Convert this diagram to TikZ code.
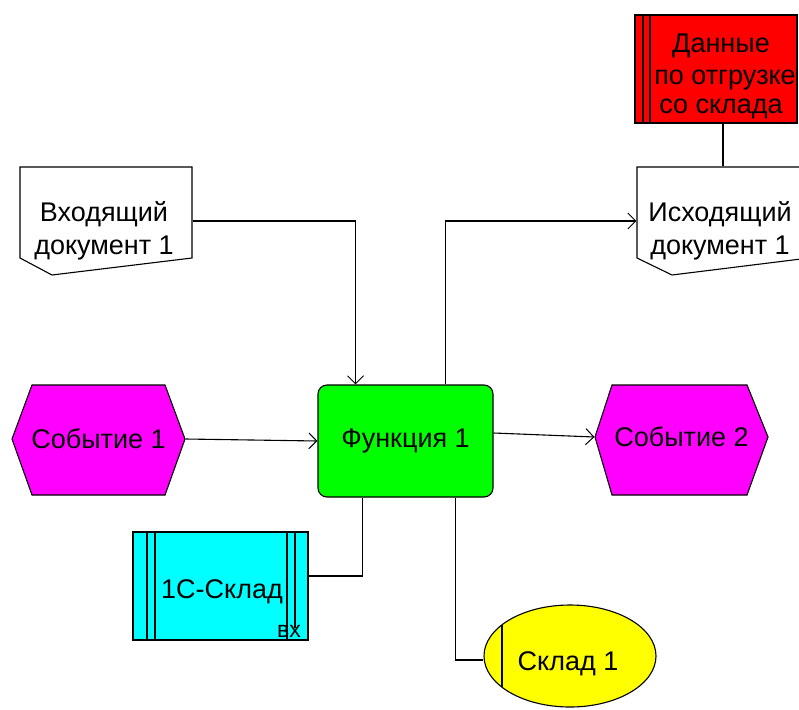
\documentclass[tikz,border=0pt]{standalone}
\usepackage{fontspec}
\setmainfont{Liberation Sans}
\usetikzlibrary{arrows.meta,calc}
\definecolor{evmag}{RGB}{255,0,255}
\definecolor{fngreen}{RGB}{0,255,0}
\definecolor{syscyan}{RGB}{0,255,255}
\definecolor{orgyellow}{RGB}{255,255,0}
\definecolor{datared}{RGB}{255,0,0}
\begin{document}
\begin{tikzpicture}[x=1pt,y=-1pt,line width=1.1pt,
  lbl/.style={font=\fontsize{27}{33}\selectfont,inner sep=0pt,align=center},
  small/.style={font=\fontsize{23}{26}\selectfont,inner sep=0pt},
  area/.style={inner sep=0pt,minimum width=#1},
  conn/.style={-{Straight Barb[length=8pt,width=16pt,line width=1pt]}},
  plain/.style={line width=1.1pt}]
\useasboundingbox (0,0) rectangle (799,709);
\clip (0,0) rectangle (799,709);

% red data box
\draw[fill=datared] (635,15) rectangle (797,123);
\draw (643,15) -- (643,123) (650,15) -- (650,123);
\node[area=162pt,minimum height=108pt] (red) at (716,69) {};
\node[lbl] (redt1) at (721,46) {Данные};
\node[lbl] (redt2) at (725,80) {по отгрузке};
\node[lbl] (redt3) at (721,109) {со склада};

% incoming document
\draw[fill=white] (20,167) -- (192,167) -- (192,258) -- (52,275) -- (20,258) -- cycle;
\node[area=172pt,minimum height=108pt] (indoc) at (106,221) {};
\node[lbl] (indoct) at (104,231) {Входящий\\документ 1};

% outgoing document
\draw[fill=white] (637,167) -- (809,167) -- (809,258) -- (672,275) -- (637,258) -- cycle;
\node[area=172pt,minimum height=108pt] (outdoc) at (723,221) {};
\node[lbl] (outdoct) at (720,231) {Исходящий\\документ 1};

% events
\draw[fill=evmag] (12,439) -- (32,385) -- (165,385) -- (185,439) -- (165,495) -- (32,495) -- cycle;
\node[area=173pt,minimum height=110pt,lbl] (e1) at (98.5,439) {Событие 1};
\draw[fill=evmag] (595,437) -- (612,385) -- (747,385) -- (768,437) -- (747,495) -- (612,495) -- cycle;
\node[area=173pt,minimum height=110pt,lbl] (e2) at (681.5,437) {Событие 2};

% function
\node[draw,fill=fngreen,rounded corners=9pt,minimum width=175pt,minimum height=112pt,lbl] (fn) at (405.5,441) {Функция 1};

% 1C system
\draw[fill=syscyan] (133,532) rectangle (308,640);
\draw (147,532) -- (147,640) (155,532) -- (155,640) (287,532) -- (287,640) (295,532) -- (295,628);
\node[area=175pt,minimum height=108pt] (sys) at (220.5,586) {};
\node[lbl] (syst) at (222,592) {1С-Склад};
\node[small] (sysin) at (289,631) {вх};

% organisational unit
\draw[fill=orgyellow] (570,656) ellipse [x radius=86, y radius=51];
\begin{scope}
\clip (570,656) ellipse [x radius=86, y radius=51];
\draw (502,590) -- (502,730);
\end{scope}
\node[area=172pt,minimum height=102pt] (org) at (570,660) {};
\node[lbl] (orgt) at (568,664) {Склад 1};

% connectors
\draw[conn] (e1.east) -- (fn.west);
\draw[conn] ([yshift=8pt]fn.east) -- (e2.west);
\draw[conn] (indoc.east) -| ([xshift=-50pt]fn.north);
\draw[conn] ([xshift=40pt]fn.north) |- (outdoc.west);
\draw[plain] (red.south -| outdoc.north) -- (outdoc.north);
\draw[plain] ([xshift=-43pt]fn.south) |- ([yshift=10pt]sys.east);
\draw[plain] ([xshift=50pt]fn.south) |- (org.west);
\end{tikzpicture}
\end{document}
